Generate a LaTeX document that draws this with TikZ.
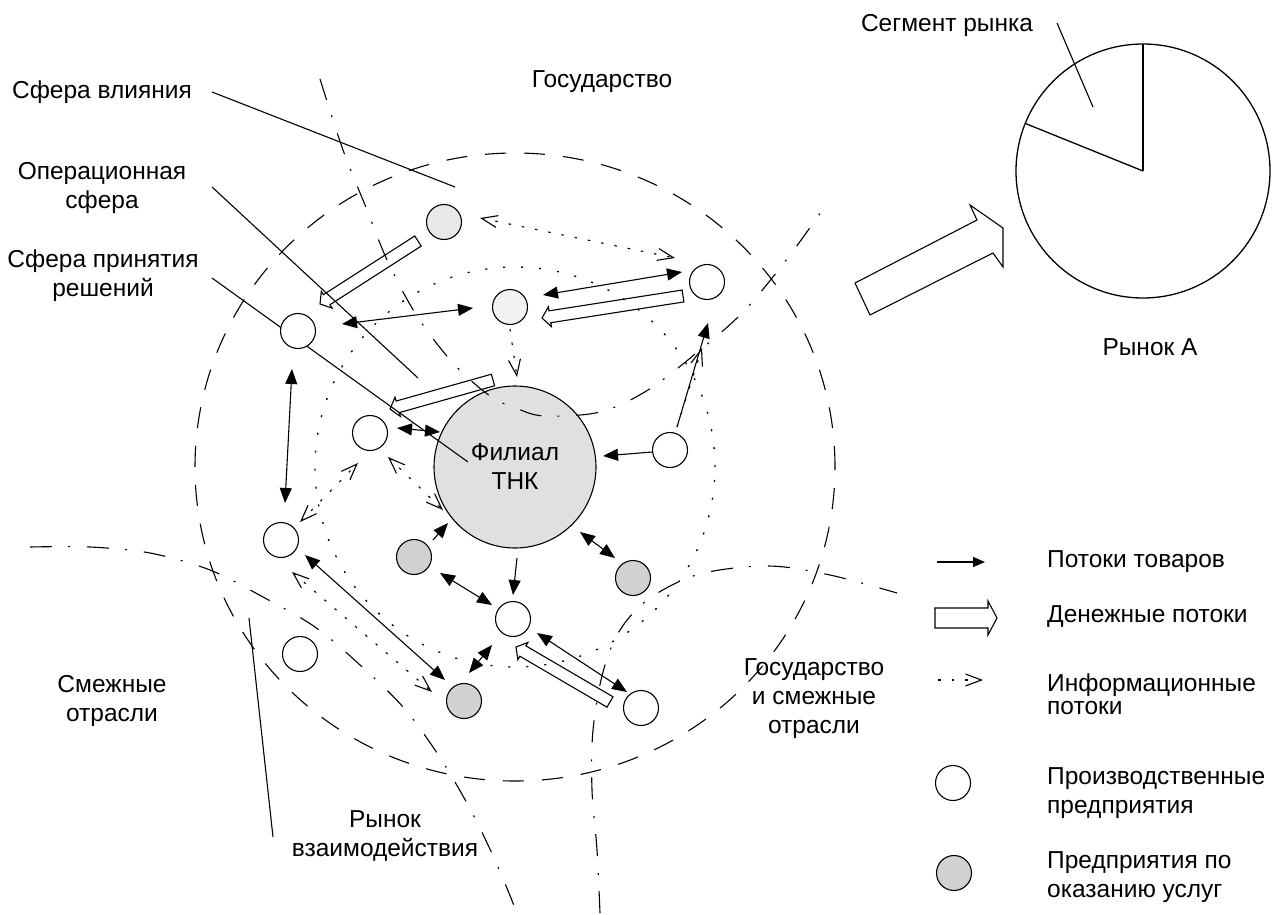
\documentclass[tikz,border=0pt]{standalone}
\usepackage{fontspec}
\setmainfont{Liberation Sans}
\usetikzlibrary{arrows.meta,calc}
\pgfdeclarelayer{bg}
\pgfdeclarelayer{mid}
\pgfsetlayers{bg,mid,main}
% #1 tail, #2 tip, #3 half shaft width, #4 half head width, #5 head length
\newcommand\moneyarrow[5]{%
  \coordinate (mB) at ($(#2)!#5!(#1)$);
  \draw[moneyline] ($(#1)!#3!90:(#2)$) -- ($(mB)!#3!90:(#2)$) -- ($(mB)!#4!90:(#2)$) -- (#2)
    -- ($(mB)!#4!-90:(#2)$) -- ($(mB)!#3!-90:(#2)$) -- ($(#1)!#3!-90:(#2)$) -- cycle;}
\begin{document}
\begin{tikzpicture}[x=1pt,y=-1pt,
  every node/.style={font=\fontsize{24.5}{29}\selectfont},
  lw/.style={line width=1.1pt},
  firm/.style={circle,draw,line width=1.1pt,minimum size=35pt,inner sep=0pt,outer sep=0pt,fill=white},
  serv/.style={firm,fill=gray!36},
  tnk/.style={circle,draw,line width=1.1pt,minimum size=162pt,inner sep=0pt,outer sep=0pt,align=center},
  lbl/.style={align=center,inner sep=0pt},
  lgd/.style={align=left,inner sep=0pt,anchor=west,font=\fontsize{24.5}{29}\selectfont},
  goods/.style={line width=1.1pt,-{Triangle[length=15pt,width=12pt]}},
  goods2/.style={line width=1.1pt,{Triangle[length=15pt,width=12pt]}-{Triangle[length=15pt,width=12pt]}},
  info/.style={line width=1.1pt,dash pattern=on 2.5pt off 11pt,-{Straight Barb[length=16pt,width=12pt]}},
  info2/.style={line width=1.1pt,dash pattern=on 2.5pt off 11pt,{Straight Barb[length=16pt,width=12pt]}-{Straight Barb[length=16pt,width=12pt]}},
  moneyline/.style={line width=1.1pt,line join=miter},
  sphere/.style={line width=1.1pt,dash pattern=on 21pt off 18pt},
  opsphere/.style={line width=1.3pt,dash pattern=on 2pt off 16pt},
  border/.style={line width=1.1pt,dash pattern=on 22pt off 16pt on 2pt off 17pt},
  leader/.style={line width=1.1pt}]
\useasboundingbox (0,0) rectangle (1275,915);

% ---------- enterprises ----------
\node[firm] (P1) at (298,331) {};
\node[firm,fill=gray!10] (M) at (510,307) {};
\node[firm] (P2) at (707,282) {};
\node[firm] (P3) at (370,433) {};
\node[firm] (P4) at (670,450) {};
\node[firm] (P5) at (281,540) {};
\node[firm] (P6) at (513,619) {};
\node[firm] (P7) at (300,654) {};
\node[firm] (P8) at (641,708) {};
\node[serv,fill=gray!18] (S1) at (444,222) {};
\node[serv] (S2) at (414,557) {};
\node[serv] (S3) at (633,578) {};
\node[serv] (S4) at (464,701) {};
\node[tnk] (TNK) at (515,467) {Филиал\\ТНК};
\begin{pgfonlayer}{bg}
  \fill[gray!24] (TNK.center) circle[radius=81pt];
\end{pgfonlayer}

% ---------- spheres, boundaries, leaders ----------
\begin{pgfonlayer}{mid}
  \draw[sphere] (TNK.center) ellipse[x radius=320pt,y radius=314pt];
  \draw[opsphere] (TNK.center) circle[radius=200pt];
  \draw[border] plot[smooth,tension=0.55] coordinates {(320,79) (343,150) (365,205) (388,262) (417,316) (453,363) (490,396) (518,409) (545,416) (600,412) (648,390) (700,350) (745,310) (790,255) (828,202)};
  \draw[border] plot[smooth,tension=0.55] coordinates {(30,547) (90,547) (150,553) (210,570) (263,597) (315,627) (360,665) (403,707) (437,753) (468,805) (495,860) (517,913)};
  \draw[border] plot[smooth,tension=0.55] coordinates {(600,913) (597,850) (592,790) (593,730) (603,672) (620,630) (650,598) (700,574) (768,566) (830,575) (897,593)};
  \coordinate (l1a) at (212,92);  \coordinate (l1b) at (455,187);
  \coordinate (l2a) at (212,187); \coordinate (l2b) at (418,378);
  \coordinate (l3a) at (212,278); \coordinate (l3b) at (468,462);
  \coordinate (l4a) at (273,837); \coordinate (l4b) at (249,618);
  \draw[leader] (l1a) -- (l1b);
  \draw[leader] (l2a) -- (l2b);
  \draw[leader] (l3a) -- (l3b);
  \draw[leader] (l4a) -- (l4b);
\end{pgfonlayer}

% ---------- labels ----------
\node[lbl] (tInf) at (102,92) {Сфера влияния};
\node[lbl] (tOp) at (102,188) {Операционная\\сфера};
\node[lbl] (tDec) at (103,276) {Сфера принятия\\решений};
\node[lbl] (tGov) at (602,82) {Государство};
\node[lbl] (tAdj) at (112,701) {Смежные\\отрасли};
\node[lbl] (tMkt) at (385,836) {Рынок\\взаимодействия};
\node[lbl] (tGA) at (814,699) {Государство\\и смежные\\отрасли};

% ---------- goods flows ----------
\draw[goods2] ($(P1)+(44,-7)$) -- ($(M)+(-37,1)$);
\draw[goods2] ($(M)+(33,-12)$) -- ($(P2)+(-25,-10)$);
\draw[goods2] ($(P1)+(-6,38)$) -- ($(P5)+(4,-37)$);
\draw[goods2] ($(P3)+(27,-5)$) -- ($(TNK)+(-75,-35)$);
\draw[goods] ($(P4)+(-18,2)$) -- ($(TNK)+(88,-11)$);
\draw[goods] ($(P4)+(7,-23)$) -- ($(P2)+(1,41)$);
\draw[goods] ($(TNK)+(2,91)$) -- ($(P6)+(0,-24)$);
\draw[goods] ($(S2)+(19,-17)$) -- ($(TNK)+(-67,56)$);
\draw[goods2] ($(TNK)+(65,65)$) -- ($(S3)+(-18,-20)$);
\draw[goods2] ($(S2)+(26,16)$) -- ($(P6)+(-21,-14)$);
\draw[goods2] ($(P6)+(-21,26)$) -- ($(S4)+(5,-28)$);
\draw[goods2] ($(P5)+(24,15)$) -- ($(S4)+(-19,-21)$);
\draw[goods2] ($(P6)+(24,14)$) -- ($(P8)+(-14,-16)$);

% ---------- information flows ----------
\draw[info2] ($(S1)+(36,-4)$) -- ($(P2)+(-32,-24)$);
\draw[info] ($(M)+(0,22)$) -- ($(TNK)+(2,-90)$);
\draw[info2] ($(P3)+(18,24)$) -- ($(TNK)+(-72,43)$);
\draw[info2] ($(P5)+(19,-18)$) -- ($(P3)+(-12,30)$);
\draw[info2] ($(P5)+(11,32)$) -- ($(S4)+(-32,-9)$);
\draw[info] ($(P4)+(7,-23)$) -- ($(P2)+(-5,66)$);

% ---------- money flows ----------
\coordinate (ma1) at ($(S1)+(-26,19)$);  \coordinate (ma2) at ($(P1)+(22,-27)$);
\coordinate (mb1) at ($(P2)+(-24,14)$);  \coordinate (mb2) at ($(M)+(32,11)$);
\coordinate (mc1) at ($(TNK)+(-22,-87)$); \coordinate (mc2) at ($(P3)+(20,-24)$);
\coordinate (md1) at ($(P8)+(-31,-6)$);  \coordinate (md2) at ($(P6)+(3,28)$);
\moneyarrow{ma1}{ma2}{6pt}{10pt}{8pt}
\moneyarrow{mb1}{mb2}{6pt}{10pt}{8pt}
\moneyarrow{mc1}{mc2}{6pt}{10pt}{8pt}
\moneyarrow{md1}{md2}{6pt}{10pt}{8pt}

% ---------- market A ----------
\node[circle,draw,line width=1.3pt,minimum size=254pt,inner sep=0pt,outer sep=0pt] (pie) at (1143,171) {};
\draw[line width=1.3pt] (pie.center) -- (pie.90);
\draw[line width=1.3pt] (pie.center) -- (pie.158);
\node[lbl] (tSeg) at (947,25) {Сегмент рынка};
\coordinate (sgA) at (1057,23); \coordinate (sgB) at (1093,107);
\draw[leader] (sgA) -- (sgB);
\node[lbl] (tMA) at (1150,347) {Рынок А};
\draw[lw,line join=miter] (855,283) -- (977,220) -- (970,205) -- (1003,228) -- (1003,267) -- (993,253) -- (870,315) -- cycle;

% ---------- legend ----------
\coordinate (Lg1) at (937,562); \coordinate (Lg2) at (985,562);
\draw[line width=1.1pt,-{Triangle[length=12pt,width=10pt]}] (Lg1) -- (Lg2);
\coordinate (Lm1) at (935,618); \coordinate (Lm2) at (997,618);
\moneyarrow{Lm1}{Lm2}{10pt}{17pt}{9pt}
\coordinate (Li1) at (938,680); \coordinate (Li2) at (983,680);
\draw[info] (Li1) -- (Li2);
\node[firm] (Lp) at (953,783) {};
\node[serv] (Ls) at (954,873) {};
\node[lgd] (tL1) at (1047,562) {Потоки товаров};
\node[lgd] (tL2) at (1047,617) {Денежные потоки};
\node[lgd,font=\fontsize{24.5}{23}\selectfont] (tL3) at (1047,694) {Информационные\\потоки};
\node[lgd] (tL4) at (1047,793) {Производственные\\предприятия};
\node[lgd] (tL5) at (1047,877) {Предприятия по\\оказанию услуг};
\end{tikzpicture}
\end{document}
